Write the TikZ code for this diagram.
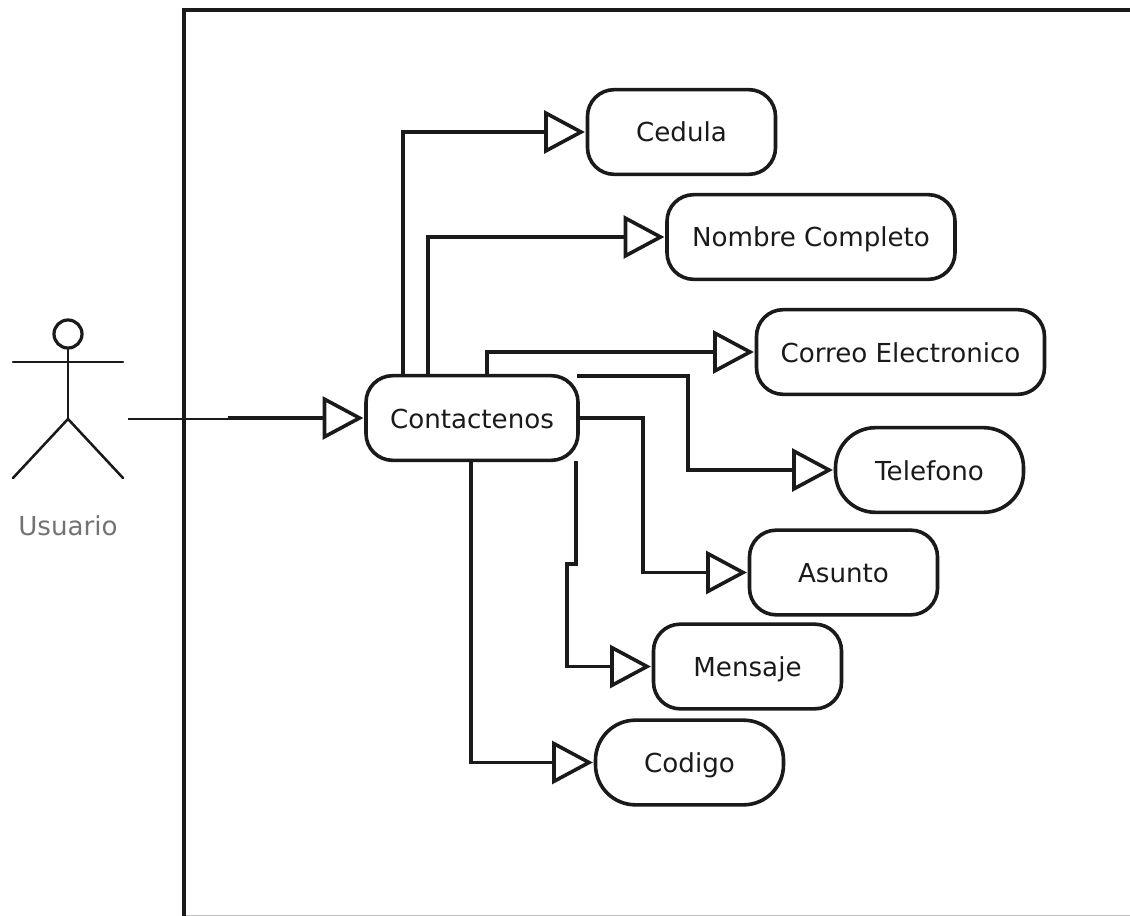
\documentclass[tikz,border=0pt]{standalone}
\usepackage{fontspec}
\setmainfont{DejaVu Sans}
\usetikzlibrary{arrows.meta}
\definecolor{ink}{HTML}{1A1A1A}
\tikzset{
  uc/.style={draw=ink,line width=2.7pt,minimum width=141pt,minimum height=63.5pt,rounded corners=20pt,inner sep=0pt,outer sep=1.35pt,font=\fontsize{19.6}{21}\selectfont,text=ink,text height=19pt,text depth=4pt},
  pill/.style={uc,rounded corners=30pt},
  conn/.style={draw=ink,line width=2.8pt,line join=miter,-{Triangle[open,length=30.5pt,width=32pt,line width=2.7pt]},shorten >=0.6pt},
  thinl/.style={draw=ink,line width=1.9pt,line cap=round},
  frameline/.style={draw=ink,line width=2.6pt}
}
\begin{document}
\begin{tikzpicture}[x=0.75pt,y=-0.75pt]
\useasboundingbox (0,0) rectangle (1130,916);
\draw[draw=black!25,line width=1.2pt] (184,915.5) -- (1130,915.5);
\draw[frameline] (184,916) -- (184,10) -- (1130,10);
% actor
\node[draw=ink,line width=2.4pt,circle,minimum size=21pt,inner sep=0pt] (head) at (68,334) {};
\coordinate (hip) at (68,419);
\coordinate (lefthand) at (13,362);
\coordinate (righthand) at (123,362);
\coordinate (leftfoot) at (13,478);
\coordinate (rightfoot) at (123,478);
\draw[thinl] (head.south) -- (hip);
\draw[thinl] (lefthand) -- (righthand);
\draw[thinl] (leftfoot) -- (hip) -- (rightfoot);
\node[font=\fontsize{19.6}{21}\selectfont,text=black!55] (usuario) at (68,526) {Usuario};
% nodes
\node[uc,minimum width=159pt] (contact) at (472,418) {Contactenos};
\node[uc] (cedula) at (681.5,132) {Cedula};
\node[uc,minimum width=216pt] (nombre) at (811,237) {Nombre Completo};
\node[uc,minimum width=216pt] (correo) at (900.5,352) {Correo Electronico};
\node[pill] (telefono) at (929.5,470) {Telefono};
\node[uc] (asunto) at (843.5,572.5) {Asunto};
\node[uc] (mensaje) at (747.5,666.5) {Mensaje};
\node[pill] (codigo) at (689.5,762.5) {Codigo};
% actor association
\coordinate (actorend) at (128,419);
\coordinate (actormid) at (228,419);
\draw[draw=ink,line width=1.9pt] (actorend) -- (actormid);
\draw[conn] (actormid |- contact.west) -- (contact.west);
% connectors
\draw[conn] ([xshift=-51.75pt]contact.north) |- (cedula.west);
\draw[conn] ([xshift=-33pt]contact.north) |- (nombre.west);
\draw[conn] ([xshift=11.25pt]contact.north) |- (correo.west);
\coordinate (telstart) at (577,375.7);
\coordinate (telbend) at (688,375.7);
\draw[conn] (telstart) -- (telbend) |- (telefono.west);
\coordinate (asubend) at (643,418);
\draw[conn] (contact.east) -- (asubend) |- (asunto.west);
\coordinate (menstart) at (576,461);
\coordinate (menjog) at (576,564);
\coordinate (menjog2) at (567,564);
\draw[conn] (menstart) -- (menjog) -- (menjog2) |- (mensaje.west);
\draw[conn] ([xshift=-0.75pt]contact.south) |- (codigo.west);
\end{tikzpicture}
\end{document}
